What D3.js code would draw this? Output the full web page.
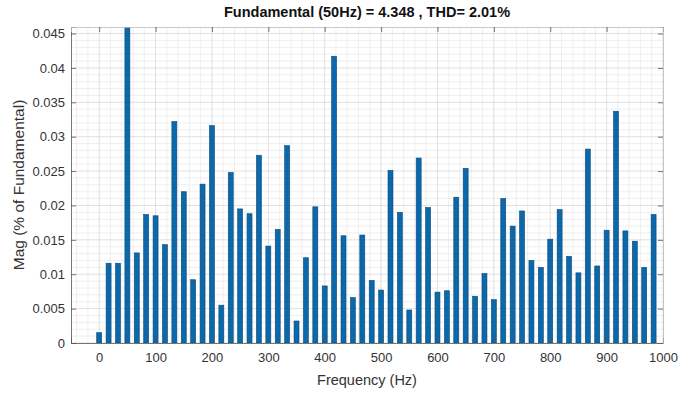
<!DOCTYPE html>
<html>
<head>
<meta charset="utf-8">
<script src="https://cdn.jsdelivr.net/npm/d3@7"></script>
<style>
body { margin: 0; background: #fff; }
svg { font-family: "Liberation Sans", Arial, sans-serif; }
</style>
</head>
<body>
<svg id="chart" width="693" height="394"></svg>
<script>
// harmonic bins, step = 50/3 Hz, k = 0..59
var binIndex = d3.range(60);
var magValues = [
    0.0015, 0.0116, 0.0116, 0.046, 0.0131, 0.0187, 0.0185, 0.0143, 0.0322, 0.0220,
    0.0092, 0.0231, 0.0316, 0.0055, 0.0248, 0.0195, 0.0188, 0.0273, 0.0141, 0.0165,
    0.0287, 0.0032, 0.0124, 0.0198, 0.0083, 0.0417, 0.0156, 0.0066, 0.0157, 0.0091,
    0.0077, 0.0251, 0.0190, 0.0048, 0.0269, 0.0197, 0.0074, 0.0076, 0.0212, 0.0254,
    0.0068, 0.0101, 0.0063, 0.0210, 0.0170, 0.0192, 0.0120, 0.0110, 0.0151, 0.0194,
    0.0126, 0.0102, 0.0282, 0.0112, 0.0164, 0.0337, 0.0163, 0.0148, 0.0110, 0.0187
];
var xTicks = [0, 100, 200, 300, 400, 500, 600, 700, 800, 900, 1000];
var xTickLabels = ['0', '100', '200', '300', '400', '500', '600', '700', '800', '900', '1000'];
var yTicks = [0, 0.005, 0.01, 0.015, 0.02, 0.025, 0.03, 0.035, 0.04, 0.045];
var yTickLabels = ['0', '0.005', '0.01', '0.015', '0.02', '0.025', '0.03', '0.035', '0.04', '0.045'];

var data = binIndex.map(function (k, i) {
    return { f: k * 50 / 3, mag: magValues[i] };
});

var margin = { left: 71, right: 30, top: 27, bottom: 51 };
var W = 693, H = 394;
var svg = d3.select('#chart');

var x = d3.scaleLinear().domain([-50, 1000]).range([margin.left, W - margin.right]);
var y = d3.scaleLinear().domain([0, 0.04595]).range([H - margin.bottom, margin.top]);

var x0 = x.range()[0], x1 = x.range()[1], y0 = y.range()[0], y1 = y.range()[1];

// minor grid
var g = svg.append('g');
d3.range(-40, 1000, 20).forEach(function (v) {
    if (v % 100 === 0) return;
    g.append('line').attr('x1', x(v)).attr('x2', x(v)).attr('y1', y0).attr('y2', y1)
        .attr('stroke', '#e8e8e8').attr('stroke-width', 0.7);
});
d3.range(0.001, 0.046, 0.001).forEach(function (v) {
    if (Math.abs(v / 0.005 - Math.round(v / 0.005)) < 1e-6) return;
    g.append('line').attr('x1', x0).attr('x2', x1).attr('y1', y(v)).attr('y2', y(v))
        .attr('stroke', '#e8e8e8').attr('stroke-width', 0.7);
});
// major grid
xTicks.forEach(function (v) {
    g.append('line').attr('x1', x(v)).attr('x2', x(v)).attr('y1', y0).attr('y2', y1)
        .attr('stroke', '#d8d8d8').attr('stroke-width', 0.8);
});
yTicks.forEach(function (v) {
    g.append('line').attr('x1', x0).attr('x2', x1).attr('y1', y(v)).attr('y2', y(v))
        .attr('stroke', '#d8d8d8').attr('stroke-width', 0.8);
});

// bars
var barW = (x(50 / 3) - x(0)) * 0.53;
svg.append('defs').append('clipPath').attr('id', 'clip')
    .append('rect').attr('x', x0).attr('y', y1).attr('width', x1 - x0).attr('height', y0 - y1);
svg.append('g').attr('clip-path', 'url(#clip)')
    .selectAll('rect').data(data).enter().append('rect')
    .attr('x', function (d) { return x(d.f) - barW / 2; })
    .attr('y', function (d) { return y(d.mag); })
    .attr('width', barW)
    .attr('height', function (d) { return y(0) - y(d.mag); })
    .attr('fill', '#0a68ab')
    .attr('stroke', '#0d4a78')
    .attr('stroke-width', 0.6);

// axes (ticks inside, box on)
var axisColor = '#333';
var xAxis = d3.axisBottom(x).tickValues(xTicks).tickSize(-5).tickPadding(10)
    .tickFormat(function (d, i) { return xTickLabels[i]; });
var yAxis = d3.axisLeft(y).tickValues(yTicks).tickSize(-5).tickPadding(6)
    .tickFormat(function (d, i) { return yTickLabels[i]; });

var gx = svg.append('g').attr('transform', 'translate(0,' + y0 + ')').call(xAxis);
var gy = svg.append('g').attr('transform', 'translate(' + x0 + ',0)').call(yAxis);
var gxt = svg.append('g').attr('transform', 'translate(0,' + y1 + ')')
    .call(d3.axisTop(x).tickValues(xTicks).tickSize(-5).tickFormat(''));
var gyr = svg.append('g').attr('transform', 'translate(' + x1 + ',0)')
    .call(d3.axisRight(y).tickValues(yTicks).tickSize(-5).tickFormat(''));

[gx, gy, gxt, gyr].forEach(function (a) {
    a.select('.domain').attr('stroke', '#555').attr('stroke-width', 0.8);
    a.selectAll('.tick line').attr('stroke', '#555').attr('stroke-width', 0.8);
    a.selectAll('.tick text').attr('fill', axisColor).style('font-size', '13px')
        .style('font-family', '"Liberation Sans", Arial, sans-serif');
});
gyr.select('.domain').attr('stroke', '#bbb');
gxt.select('.domain').attr('stroke', '#bbb');

// title and labels
svg.append('text')
    .attr('x', (x0 + x1) / 2).attr('y', 17)
    .attr('text-anchor', 'middle')
    .style('font-size', '14.5px').style('font-weight', 'bold').attr('fill', '#111')
    .text('Fundamental (50Hz) = 4.348 , THD= 2.01%');

svg.append('text')
    .attr('x', (x0 + x1) / 2).attr('y', 385)
    .attr('text-anchor', 'middle')
    .style('font-size', '14.5px').attr('fill', axisColor)
    .text('Frequency (Hz)');

svg.append('text')
    .attr('transform', 'translate(24,' + ((y0 + y1) / 2) + ') rotate(-90)')
    .attr('text-anchor', 'middle')
    .style('font-size', '15.5px').attr('fill', axisColor)
    .text('Mag (% of Fundamental)');
</script>
</body>
</html>
